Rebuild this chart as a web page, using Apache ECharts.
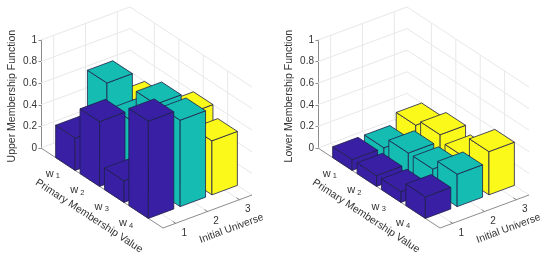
<!DOCTYPE html>
<html><head><meta charset="utf-8">
<style>html,body{margin:0;padding:0;background:#fff}#c{width:550px;height:264px}</style>
<script src="https://cdn.jsdelivr.net/npm/echarts@6/dist/echarts.min.js"></script>
</head><body><div id="c"></div>
<script>
const primaryTicks = [1, 2, 3, 4];
const primaryLabels = ['1', '2', '3', '4'];
const universeTicks = [1, 2, 3];
const universeLabels = ['1', '2', '3'];
const heightTicks = [0, 0.2, 0.4, 0.6, 0.8, 1];
const upperUniverse1 = [0.3, 0.6, 0.2, 0.9];
const upperUniverse2 = [0.7, 0.5, 0.8, 0.8];
const upperUniverse3 = [0.4, 0.4, 0.6, 0.5];
const lowerUniverse1 = [0.1, 0.1, 0.1, 0.2];
const lowerUniverse2 = [0.1, 0.2, 0.2, 0.3];
const lowerUniverse3 = [0.2, 0.26, 0.2, 0.4];
const colors = ['#381fa3', '#14bcb2', '#fbf91a'];

const FONT = '"Liberation Sans", Arial, sans-serif';
const W_MAX = 5, C_MIN = 0.6, C_MAX = 3.4, BAR = 0.4;
const WX = 122 / W_MAX, WY = 80 / W_MAX, CX = 89 / (C_MAX - C_MIN), CY = 33 / (C_MAX - C_MIN), ZPX = 108;
const LBL = '#333', AXIS = '#6e6e6e', GRID = '#e8e8e8';

// Orthographic projection of (primary, universe, height) into the panel's 2-D axes.
function proj(api, w, c, z) {
  const X = w * WX + (c - C_MIN) * CX;
  const Y = z - (w * WY - (c - C_MIN) * CY) / ZPX;
  return api.coord([X, Y]);
}
function seg(api, a, b, stroke, lw) {
  const p = proj(api, a[0], a[1], a[2]), q = proj(api, b[0], b[1], b[2]);
  return {type: 'line', shape: {x1: p[0], y1: p[1], x2: q[0], y2: q[1]}, style: {stroke: stroke, lineWidth: lw}, silent: true};
}
function txt(x, y, text, rot, size, rich) {
  return {type: 'text', x: x, y: y, rotation: rot || 0, silent: true,
    style: {text: text, fill: LBL, font: (size || 10) + 'px ' + FONT, align: 'center', verticalAlign: 'middle', rich: rich}};
}
function frameFor(name) {
  return function (params, api) {
    const k = [];
    heightTicks.forEach(z => {
      k.push(seg(api, [0, C_MIN, z], [0, C_MAX, z], GRID, 1));
      k.push(seg(api, [0, C_MAX, z], [W_MAX, C_MAX, z], GRID, 1));
    });
    universeTicks.forEach(c => {
      k.push(seg(api, [0, c, 0], [0, c, 1], GRID, 1));
      k.push(seg(api, [0, c, 0], [W_MAX, c, 0], GRID, 1));
    });
    primaryTicks.forEach(w => {
      k.push(seg(api, [w, C_MAX, 0], [w, C_MAX, 1], GRID, 1));
      k.push(seg(api, [w, C_MIN, 0], [w, C_MAX, 0], GRID, 1));
    });
    k.push(seg(api, [0, C_MIN, 0], [W_MAX, C_MIN, 0], AXIS, 0.8));
    k.push(seg(api, [W_MAX, C_MIN, 0], [W_MAX, C_MAX, 0], AXIS, 0.8));
    primaryTicks.forEach((w, i) => {
      k.push(seg(api, [w, C_MIN, 0], [w, C_MIN + 0.09, 0], AXIS, 0.8));
      const p = proj(api, w, C_MIN, 0);
      k.push(txt(p[0] - 12.5, p[1] + 9.5 + i * 0.5, '{a|w}{b| ' + primaryLabels[i] + '}', 0, 10, {
        a: {font: '11px ' + FONT, fill: LBL},
        b: {font: '7.5px ' + FONT, fill: LBL, verticalAlign: 'bottom', padding: [5, 0, 0, 0]}
      }));
    });
    universeTicks.forEach((c, i) => {
      k.push(seg(api, [W_MAX, c, 0], [W_MAX - 0.12, c, 0], AXIS, 0.8));
      const p = proj(api, W_MAX, c, 0);
      k.push(txt(p[0] + 8.5, p[1] + 10, universeLabels[i], 0, 10));
    });
    const a = proj(api, W_MAX / 2, C_MIN, 0);
    k.push(txt(a[0] - 13, a[1] + 28, 'Primary Membership Value', -Math.atan(80 / 122), 10.5));
    const b = proj(api, W_MAX, (C_MIN + C_MAX) / 2, 0);
    k.push(txt(b[0] + 24, b[1] + 17, 'Initial Universe', Math.atan(33 / 89), 10.3));
    const o = proj(api, 0, C_MIN, 0.48);
    k.push(txt(o[0] - 29, o[1], name, Math.PI / 2, 10.5));
    return {type: 'group', children: k};
  };
}
function barItem(c, color) {
  return function (params, api) {
    const w = api.value(0), h = api.value(1);
    const w0 = w - BAR, w1 = w + BAR, c0 = c - BAR, c1 = c + BAR;
    const st = {fill: color, stroke: '#20204a', lineWidth: 0.8, lineJoin: 'round'};
    const face = pts => ({type: 'polygon', shape: {points: pts.map(q => proj(api, q[0], q[1], q[2]))}, style: st, silent: true});
    return {type: 'group', children: [
      face([[w0, c0, 0], [w1, c0, 0], [w1, c0, h], [w0, c0, h]]),
      face([[w1, c0, 0], [w1, c1, 0], [w1, c1, h], [w1, c0, h]]),
      face([[w0, c0, h], [w1, c0, h], [w1, c1, h], [w0, c1, h]])
    ]};
  };
}
const panels = [
  {left: 41, name: 'Upper Membership Function', cols: [upperUniverse1, upperUniverse2, upperUniverse3]},
  {left: 318, name: 'Lower Membership Function', cols: [lowerUniverse1, lowerUniverse2, lowerUniverse3]}
];
const grid = [], xAxis = [], yAxis = [], series = [];
panels.forEach((p, i) => {
  grid.push({left: p.left, top: 40, width: 211, height: ZPX, containLabel: false});
  xAxis.push({type: 'value', gridIndex: i, min: 0, max: 211, show: false});
  yAxis.push({
    type: 'value', gridIndex: i, min: 0, max: 1, interval: 0.2,
    axisLine: {show: true, lineStyle: {color: AXIS, width: 0.8}},
    axisTick: {show: true, length: 2.5, lineStyle: {color: AXIS, width: 0.8}},
    axisLabel: {color: LBL, fontSize: 10, fontFamily: FONT, margin: 4},
    splitLine: {show: false}
  });
  series.push({type: 'custom', xAxisIndex: i, yAxisIndex: i, coordinateSystem: 'cartesian2d',
    data: [[0, 0]], renderItem: frameFor(p.name), silent: true, animation: false, z: 1});
  [2, 1, 0].forEach(ci => {
    series.push({type: 'custom', xAxisIndex: i, yAxisIndex: i, coordinateSystem: 'cartesian2d',
      encode: {x: 0, y: 1},
      data: p.cols[ci].map((v, k) => [primaryTicks[k], v]),
      renderItem: barItem(universeTicks[ci], colors[ci]), silent: true, animation: false, z: 3 + (2 - ci)});
  });
});
const chart = echarts.init(document.getElementById('c'), null, {renderer: 'canvas'});
chart.setOption({animation: false, backgroundColor: '#fff', grid, xAxis, yAxis, series, tooltip: {show: false}});
</script></body></html>
